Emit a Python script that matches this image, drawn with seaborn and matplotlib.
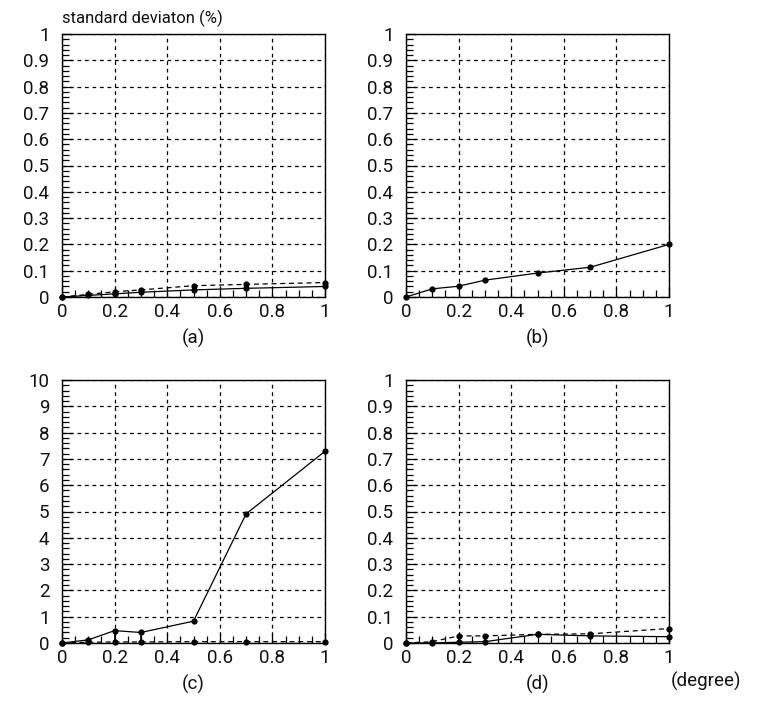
import numpy as np
import pandas as pd
import seaborn as sns
import matplotlib
matplotlib.use("Agg")
import matplotlib.pyplot as plt
from matplotlib.ticker import MultipleLocator

# ---- data ----
x = [0, 0.1, 0.2, 0.3, 0.5, 0.7, 1.0]
a_solid = [0, 0.006, 0.012, 0.018, 0.027, 0.033, 0.040]
a_dash = [0, 0.010, 0.020, 0.027, 0.043, 0.048, 0.055]
a_dash_lo = [0, 0.004, 0.014, 0.008, 0.008, 0.008, 0.006]
b_solid = [0, 0.031, 0.041, 0.064, 0.091, 0.113, 0.200]
c_solid = [0, 0.12, 0.47, 0.40, 0.83, 4.91, 7.29]
c_dash = [0, 0.03, 0.04, 0.04, 0.05, 0.05, 0.05]
c_dash_hi = [0, 0.10, 0.43, 0.36, 0.03, 0.0, 0.0]
d_solid = [0, 0, 0.003, 0.005, 0.033, 0.027, 0.024]
d_dash = [0, 0.005, 0.027, 0.027, 0.033, 0.035, 0.055]
d_dash_lo = [0, 0, 0.027, 0.025, 0, 0.008, 0.008]
panel_labels = ["(a)", "(b)", "(c)", "(d)"]
ylims = [1, 1, 10, 1]
ymajor = [0.1, 0.1, 1, 0.1]
yminor = [0.02, 0.02, 0.2, 0.02]
xticks = [0, 0.2, 0.4, 0.6, 0.8, 1]
xtick_labels = ["0", "0.2", "0.4", "0.6", "0.8", "1"]

sns.set_style("white")
plt.rcParams["font.family"] = ["Roboto", "DejaVu Sans"]
plt.rcParams["font.weight"] = "normal"

W, H = 761, 718
fig = plt.figure(figsize=(W / 100, H / 100), dpi=100)

boxes = [(62, 34), (406, 34), (62, 380), (406, 380)]
size = 263

series = [
    [(a_solid, "-", None), (a_dash, (0, (4, 3)), a_dash_lo)],
    [(b_solid, "-", None)],
    [(c_solid, "-", None), (c_dash, (0, (4, 3)), c_dash_hi)],
    [(d_solid, "-", None), (d_dash, (0, (4, 3)), d_dash_lo)],
]

TXT = "#111111"
FS = 13.5

for i, (lx, ty) in enumerate(boxes):
    ax = fig.add_axes([lx / W, 1 - (ty + size) / H, size / W, size / H])
    for vals, ls, err in series[i]:
        df = pd.DataFrame({"x": x, "y": vals})
        sns.lineplot(data=df, x="x", y="y", ax=ax, color="black", linewidth=0.9,
                     linestyle=ls, marker="o", markersize=4.5, markeredgewidth=0,
                     clip_on=False, zorder=5)
        if err is not None:
            if i == 2:
                yerr = [np.zeros(len(err)), err]
            else:
                yerr = [err, np.zeros(len(err))]
            ax.errorbar(x, vals, yerr=yerr, fmt="none", ecolor="black",
                        elinewidth=1.2, capsize=0, zorder=4)
    ax.set_xlim(0, 1)
    ax.set_ylim(0, ylims[i])
    ax.set_xticks(xticks)
    ax.set_xticklabels(xtick_labels)
    yt = np.round(np.arange(0, ylims[i] + ymajor[i] / 2, ymajor[i]), 3)
    ax.set_yticks(yt)
    ax.set_yticklabels([f"{v:g}" for v in yt])
    ax.xaxis.set_minor_locator(MultipleLocator(0.05))
    ax.yaxis.set_minor_locator(MultipleLocator(yminor[i]))
    ax.grid(True, which="major", color="black", linestyle=(0, (3, 3)), linewidth=0.9)
    ax.tick_params(which="both", direction="in", color="black", top=False, right=False,
                   bottom=True, left=True, labelsize=FS, labelcolor=TXT)
    ax.tick_params(which="major", length=7, width=0.9, pad=9)
    ax.tick_params(which="minor", length=5, width=0.9)
    ax.tick_params(axis="x", which="major", pad=4)
    for sp in ax.spines.values():
        sp.set_color("black")
        sp.set_linewidth(1.0)
    ax.set_xlabel(panel_labels[i], fontsize=FS, color=TXT, labelpad=6)
    ax.set_ylabel("")

fig.text(62 / W, 1 - 18 / H, "standard deviaton (%)", fontsize=12,
         color=TXT, ha="left", va="center")
fig.text(706 / W, 1 - 681 / H, "(degree)", fontsize=FS, color=TXT,
         ha="center", va="center")

fig.savefig("out.png", dpi=100, facecolor="white")
